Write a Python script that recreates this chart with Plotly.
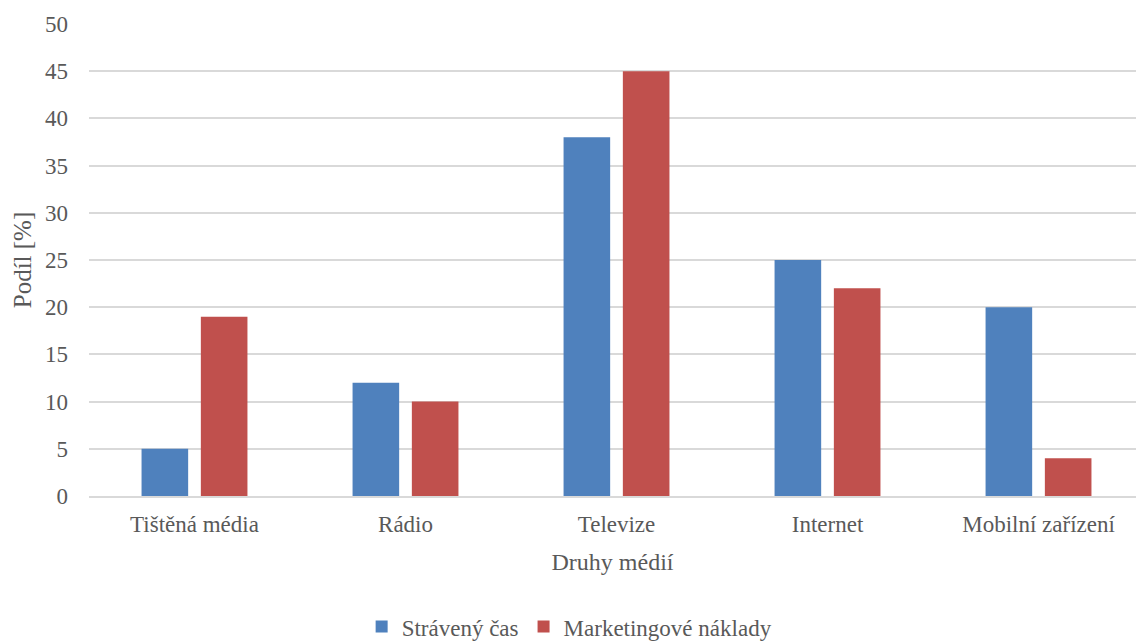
import plotly.graph_objects as go

# Share of time spent vs. marketing spend by media type
categories = ["Tištěná média", "Rádio", "Televize", "Internet", "Mobilní zařízení"]
time_spent = [5, 12, 38, 25, 20]
marketing_costs = [19, 10, 45, 22, 4]
y_ticks = list(range(0, 55, 5))

FONT = "Liberation Serif"
TEXT = "#595959"
GRID = "#D9D9D9"

fig = go.Figure()
fig.add_trace(go.Bar(name="Strávený čas", x=categories, y=time_spent,
                     marker=dict(color="#4F81BD", line=dict(width=0))))
fig.add_trace(go.Bar(name="Marketingové náklady", x=categories, y=marketing_costs,
                     marker=dict(color="#C0504D", line=dict(width=0))))

fig.update_layout(
    width=1136, height=642,
    margin=dict(l=89, r=0, t=24, b=146, autoexpand=False),
    paper_bgcolor="white", plot_bgcolor="white",
    font=dict(family=FONT, size=23, color=TEXT),
    barmode="group", bargap=0.438, bargroupgap=0.214,
    legend=dict(orientation="h", xref="container", x=0.501, xanchor="center",
                yref="container", y=0.024, yanchor="middle",
                font=dict(family=FONT, size=23, color=TEXT), itemwidth=30,
                traceorder="normal"),
    xaxis=dict(title=dict(text="Druhy médií", font=dict(family=FONT, size=24), standoff=17),
               range=[-0.5, 4.462], showline=True, linecolor=GRID, linewidth=1.5,
               ticks="", showgrid=False, ticklabelstandoff=7,
               tickfont=dict(family=FONT, size=23, color=TEXT)),
    yaxis=dict(title=dict(text="Podíl [%]", font=dict(family=FONT, size=25), standoff=6),
               range=[0, 50], tickvals=y_ticks, showgrid=True,
               gridcolor=GRID, gridwidth=1.5, zeroline=False,
               ticks="", ticklabelstandoff=20,
               tickfont=dict(family=FONT, size=23, color=TEXT)),
)

fig.write_html("out.html")
